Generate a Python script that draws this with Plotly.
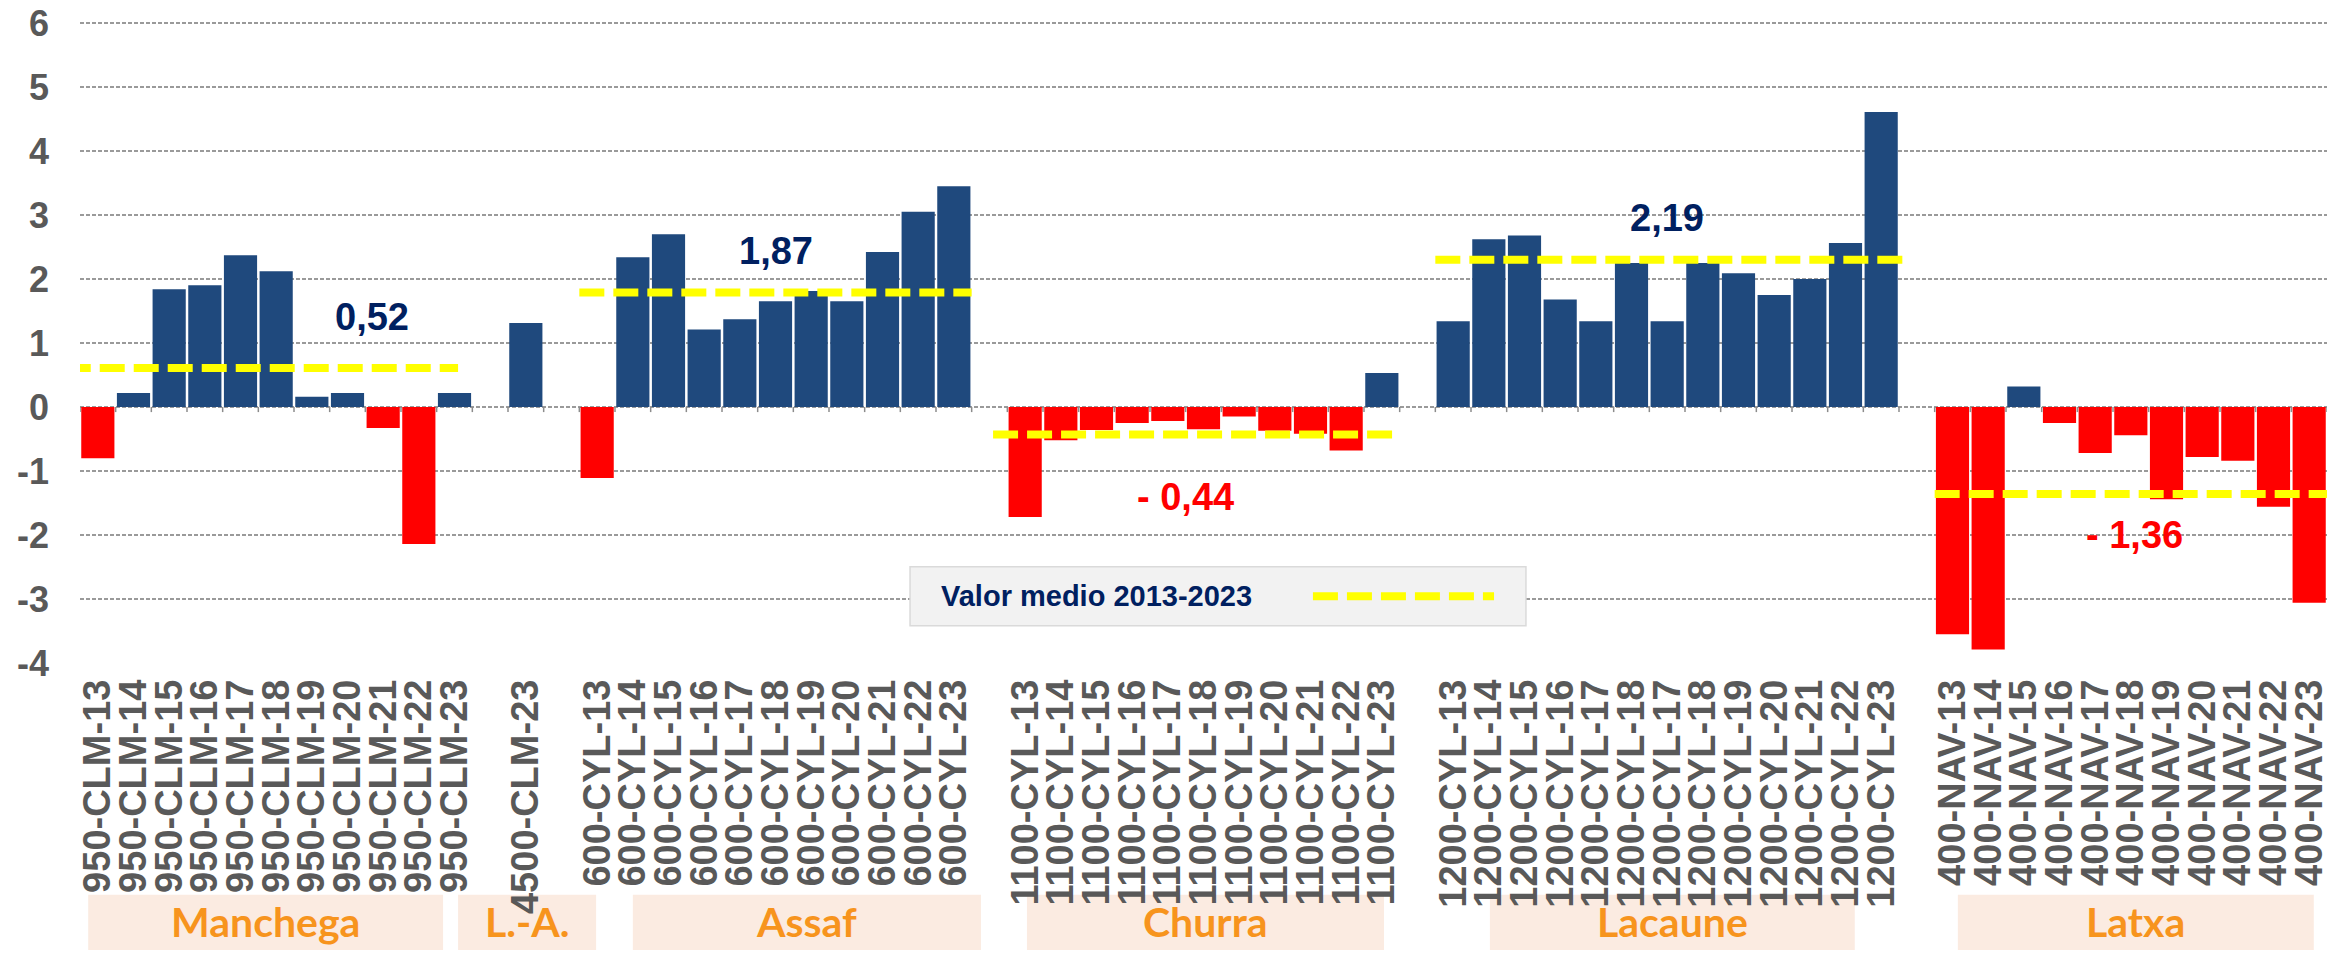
import plotly.graph_objects as go

# ---------------- data ----------------
breeds = ["Manchega", "L.-A.", "Assaf", "Churra", "Lacaune", "Latxa"]

manchega_labels = ["950-CLM-13", "950-CLM-14", "950-CLM-15", "950-CLM-16", "950-CLM-17", "950-CLM-18",
                   "950-CLM-19", "950-CLM-20", "950-CLM-21", "950-CLM-22", "950-CLM-23"]
manchega_values = [-0.80, 0.22, 1.84, 1.90, 2.37, 2.12, 0.16, 0.22, -0.33, -2.14, 0.22]

la_labels = ["4500-CLM-23"]
la_values = [1.31]

assaf_labels = ["600-CYL-13", "600-CYL-14", "600-CYL-15", "600-CYL-16", "600-CYL-17", "600-CYL-18",
                "600-CYL-19", "600-CYL-20", "600-CYL-21", "600-CYL-22", "600-CYL-23"]
assaf_values = [-1.11, 2.34, 2.70, 1.21, 1.37, 1.65, 1.81, 1.65, 2.42, 3.05, 3.45]

churra_labels = ["1100-CYL-13", "1100-CYL-14", "1100-CYL-15", "1100-CYL-16", "1100-CYL-17", "1100-CYL-18",
                 "1100-CYL-19", "1100-CYL-20", "1100-CYL-21", "1100-CYL-22", "1100-CYL-23"]
churra_values = [-1.72, -0.52, -0.36, -0.25, -0.22, -0.35, -0.15, -0.37, -0.42, -0.68, 0.53]

lacaune_labels = ["1200-CYL-13", "1200-CYL-14", "1200-CYL-15", "1200-CYL-16", "1200-CYL-17", "1200-CYL-18",
                  "1200-CYL-17", "1200-CYL-18", "1200-CYL-19", "1200-CYL-20", "1200-CYL-21", "1200-CYL-22",
                  "1200-CYL-23"]
lacaune_values = [1.34, 2.62, 2.68, 1.68, 1.34, 2.25, 1.34, 2.25, 2.09, 1.75, 2.00, 2.56, 4.61]

latxa_labels = ["400-NAV-13", "400-NAV-14", "400-NAV-15", "400-NAV-16", "400-NAV-17", "400-NAV-18",
                "400-NAV-19", "400-NAV-20", "400-NAV-21", "400-NAV-22", "400-NAV-23"]
latxa_values = [-3.55, -3.79, 0.32, -0.25, -0.72, -0.44, -1.44, -0.78, -0.84, -1.56, -3.06]

mean_texts = ["0,52", None, "1,87", "- 0,44", "2,19", "- 1,36"]
mean_line_values = [0.61, None, 1.79, -0.43, 2.30, -1.36]

legend_text = "Valor medio 2013-2023"
y_tick_values = [-4, -3, -2, -1, 0, 1, 2, 3, 4, 5, 6]
y_tick_texts = ["-4", "-3", "-2", "-1", "0", "1", "2", "3", "4", "5", "6"]

group_labels = [manchega_labels, la_labels, assaf_labels, churra_labels, lacaune_labels, latxa_labels]
group_values = [manchega_values, la_values, assaf_values, churra_values, lacaune_values, latxa_values]

# ---------------- styling / placement ----------------
BLUE = "#1F497D"
RED = "#FF0000"
NAVY = "#002060"
GRAY_TXT = "#595959"
GRID = "#9A9A9A"
YELLOW = "#FFFF00"
BOX_FILL = "#FBEBE1"
ORANGE = "#F7941D"
ARIAL = "Liberation Sans, Arial, sans-serif"
BOXFONT = "Lato, Open Sans, sans-serif"

# offsets (in category units) relative to each group's first/last category
line_offsets = [(-0.9, 0.1), None, (-0.5, 0.5), (-0.9, 0.5), (-0.5, 0.6), (-0.5, 0.6)]
label_offsets = [(7.7, 1.41), None, (5.0, 2.44), (4.5, -1.41), (6.0, 2.96), (5.1, -2.0)]
box_offsets = [(-0.27, -0.32), (-1.9, 1.97), (1.0, 0.76), (0.05, 0.06), (1.03, -0.74), (0.15, 0.13)]

# ---------------- build positions (one empty slot between groups) ----------------
xs, ys, texts, colors = [], [], [], []
starts, ends = [], []
pos = 0
for labels, vals in zip(group_labels, group_values):
    starts.append(pos)
    for lab, v in zip(labels, vals):
        xs.append(pos)
        ys.append(v)
        texts.append(lab)
        colors.append(BLUE if v >= 0 else RED)
        pos += 1
    ends.append(pos - 1)
    pos += 1
last = xs[-1]

fig = go.Figure()
fig.add_trace(go.Bar(x=xs, y=ys, marker=dict(color=colors, line=dict(width=0)),
                     width=0.93, showlegend=False, hoverinfo="skip"))

# mean lines
for i, b in enumerate(breeds):
    if mean_line_values[i] is None:
        continue
    o0, o1 = line_offsets[i]
    fig.add_trace(go.Scatter(x=[starts[i] + o0, ends[i] + o1],
                             y=[mean_line_values[i], mean_line_values[i]],
                             mode="lines", line=dict(color=YELLOW, width=8, dash="25px,9px"),
                             showlegend=False, hoverinfo="skip"))

# mean value labels
for i, b in enumerate(breeds):
    if mean_texts[i] is None:
        continue
    dx, yy = label_offsets[i]
    fig.add_annotation(x=starts[i] + dx, y=yy, xref="x", yref="y", text=mean_texts[i],
                       showarrow=False,
                       font=dict(family=ARIAL, size=38, weight=700,
                                 color=(NAVY if not mean_texts[i].startswith("-") else RED)))

shapes = []
# small ticks on the zero line at category boundaries
for k in range(-1, last + 1):
    shapes.append(dict(type="line", xref="x", yref="y", x0=k + 0.5, x1=k + 0.5, y0=0, y1=-0.08,
                       line=dict(color="#8C8C8C", width=1.5), layer="above"))

# breed boxes under the axis
BOX_Y0, BOX_Y1 = -0.475, -0.361
for i, b in enumerate(breeds):
    o0, o1 = box_offsets[i]
    x0 = starts[i] + o0
    x1 = ends[i] + o1
    shapes.append(dict(type="rect", xref="x", yref="paper", x0=x0, x1=x1, y0=BOX_Y0, y1=BOX_Y1,
                       fillcolor=BOX_FILL, line=dict(width=0), layer="below"))
    fig.add_annotation(x=(x0 + x1) / 2, y=-0.402, xref="x", yref="paper",
                       text=b, showarrow=False, yanchor="middle",
                       font=dict(family=BOXFONT, size=41, weight=700, color=ORANGE))

# legend box (text left, dashed sample right)
shapes.append(dict(type="rect", xref="paper", yref="paper", x0=0.3694, x1=0.6435, y0=0.058, y1=0.150,
                   fillcolor="#F2F2F2", line=dict(color="#DADADA", width=1.5), layer="above"))
shapes.append(dict(type="line", xref="paper", yref="paper", x0=0.5487, x1=0.6293, y0=0.104, y1=0.104,
                   line=dict(color=YELLOW, width=8, dash="25px,9px"), layer="above"))
fig.add_annotation(x=0.3825, y=0.104, xref="paper", yref="paper", text=legend_text, showarrow=False,
                   xanchor="left", yanchor="middle",
                   font=dict(family=ARIAL, size=29, weight=700, color=NAVY))

# the page body adds an 8px margin on every side: size the figure so the page does not overflow
fig.update_layout(
    template="none",
    width=2323, height=942,
    margin=dict(l=72, r=4, t=13, b=287, autoexpand=False),
    plot_bgcolor="white", paper_bgcolor="white",
    bargap=0.07,
    shapes=shapes,
    showlegend=False,
    xaxis=dict(range=[-0.5, last + 0.5], tickmode="array", tickvals=xs, ticktext=texts,
               tickangle=-90, showgrid=False, zeroline=False, showline=False, ticks="",
               automargin=False, ticklabelstandoff=8, ticklabeloverflow="allow",
               tickfont=dict(family=ARIAL, size=38, weight=700, color=GRAY_TXT)),
    yaxis=dict(range=[-4, 6.03], tickmode="array", tickvals=y_tick_values, ticktext=y_tick_texts,
               showgrid=True, gridcolor=GRID, gridwidth=2, griddash="4px,2px",
               zeroline=False, showline=False, ticks="", ticklabelstandoff=30, automargin=False,
               ticklabeloverflow="allow",
               tickfont=dict(family=ARIAL, size=36, weight=700, color=GRAY_TXT)),
)

fig.write_html("out.html")
